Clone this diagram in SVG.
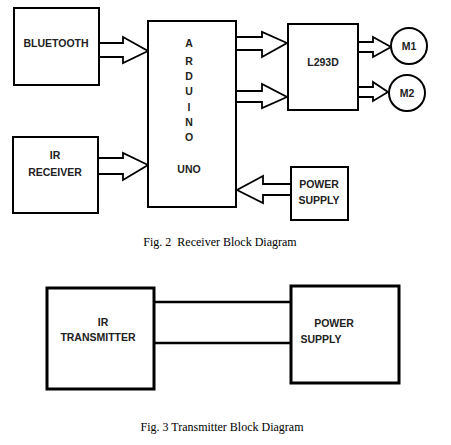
<svg xmlns="http://www.w3.org/2000/svg" width="451" height="445" viewBox="0 0 451 445">
<style>
.box{fill:#fff;stroke:#000;stroke-width:2}
.tbox{fill:#fff;stroke:#000;stroke-width:3}
.arr{fill:#fff;stroke:#000;stroke-width:1.8;stroke-linejoin:miter}
.lbl{font-family:"Liberation Sans",Arial,sans-serif;font-weight:bold;font-size:10.5px;fill:#222;text-anchor:middle}
.cap{font-family:"Liberation Serif","Times New Roman",serif;font-size:12px;fill:#000;text-anchor:middle}
.wire{stroke:#000;stroke-width:2.5;fill:none}
</style>
<rect width="451" height="445" fill="#fff"/>
<g id="connectors">
<path class="arr" d="M99,43 H123 V37 L148,51 L123,63 V57 H99"/>
<path class="arr" d="M98,158 H123 V153 L148,165 L123,180 V174 H98"/>
<path class="arr" d="M236,37 H262 V32 L287,43 L262,57 V50 H236"/>
<path class="arr" d="M236,91 H262 V84 L287,97 L262,108 V102 H236"/>
<path class="arr" d="M358,42 H373 V37 L391,47 L373,57 V52 H358"/>
<path class="arr" d="M358,87 H373 V82 L388,92 L373,101 V97 H358"/>
<path class="arr" d="M291,184 H263 V176 L237,190 L263,203 V195 H291"/>
<line class="wire" x1="154" y1="302" x2="291" y2="302"/>
<line class="wire" x1="154" y1="343" x2="293" y2="343"/>
</g>
<g id="bluetooth">
<rect class="box" x="14" y="8" width="85" height="77"/>
<text class="lbl" x="56" y="47">BLUETOOTH</text>
</g>
<g id="ir-receiver">
<rect class="box" x="13" y="137" width="85" height="76"/>
<text class="lbl" x="55" y="159">IR</text>
<text class="lbl" x="55" y="176">RECEIVER</text>
</g>
<g id="arduino">
<rect class="box" x="148" y="21" width="88" height="186"/>
<text class="lbl" x="189" y="47">A</text>
<text class="lbl" x="189" y="65">R</text>
<text class="lbl" x="189" y="80">D</text>
<text class="lbl" x="189" y="95">U</text>
<text class="lbl" x="189" y="111">I</text>
<text class="lbl" x="189" y="126">N</text>
<text class="lbl" x="189" y="141">O</text>
<text class="lbl" x="189" y="173">UNO</text>
</g>
<g id="l293d">
<rect class="box" x="288" y="24" width="70" height="86"/>
<text class="lbl" x="323" y="66">L293D</text>
</g>
<g id="m1">
<circle class="box" cx="409" cy="46" r="18"/>
<text class="lbl" x="409" y="50">M1</text>
</g>
<g id="m2">
<circle class="box" cx="407" cy="93" r="18"/>
<text class="lbl" x="407" y="97">M2</text>
</g>
<g id="power-supply-rx">
<rect class="box" x="291" y="167" width="57" height="53"/>
<text class="lbl" x="319" y="188">POWER</text>
<text class="lbl" x="319" y="204">SUPPLY</text>
</g>
<text class="cap" x="220" y="246" xml:space="preserve">Fig. 2  Receiver Block Diagram</text>
<g id="ir-transmitter">
<rect class="tbox" x="47" y="288" width="107" height="101"/>
<text class="lbl" x="103" y="326">IR</text>
<text class="lbl" x="98" y="341">TRANSMITTER</text>
</g>
<g id="power-supply-tx">
<rect class="tbox" x="291" y="286" width="108" height="97"/>
<text class="lbl" x="334" y="327">POWER</text>
<text class="lbl" x="321" y="343">SUPPLY</text>
</g>
<text class="cap" x="222" y="431">Fig. 3 Transmitter Block Diagram</text>
</svg>
